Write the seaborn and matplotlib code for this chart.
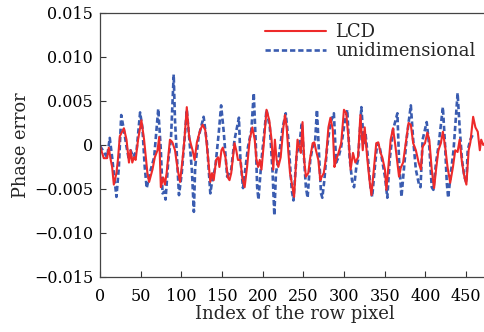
import matplotlib
matplotlib.use("Agg")
import matplotlib.pyplot as plt
import seaborn as sns
import pandas as pd

# ---- data ----
lcd_x = [0, 4.6, 8.7, 10.8, 12.8, 14.9, 17.0, 20.2, 22.0, 24.4, 29.4, 32.6, 35.6, 37.6, 39.7, 41.8,
         43.8, 46.8, 50.9, 54.2, 58.3, 60.4, 64.5, 67.4, 70.7, 72.8, 74.8, 77.8, 79.8, 81.9, 86.0,
         89.0, 92.2, 95.5, 98.4, 101.4, 103.8, 106.7, 109.6, 112.0, 113.8, 116.3, 119.1, 123.2,
         126.2, 129.4, 132.8, 135.6, 137.7, 139.8, 142.7, 145.2, 146.8, 149.3, 151.0, 154.2, 157.2,
         159.2, 161.3, 165.4, 167.5, 169.6, 172.5, 174.9, 177.8, 180.8, 184.0, 187.3, 190.2, 192.3,
         194.4, 196.4, 198.5, 201.4, 204.7, 208.1, 210.9, 213.0, 215.0, 217.1, 219.2, 222.1, 225.4,
         227.4, 229.5, 231.6, 233.6, 235.7, 238.6, 240.7, 242.8, 244.8, 246.9, 249.0, 251.0, 253.1,
         256.0, 258.5, 261.4, 263.4, 265.5, 268.4, 270.8, 272.6, 275.1, 277.9, 280.8, 283.3, 286.2,
         288.2, 290.3, 293.2, 296.5, 299.9, 302.7, 305.6, 308.1, 311.0, 313.9, 317.2, 320.1, 323.0,
         325.4, 328.4, 331.3, 333.7, 336.6, 339.6, 342.1, 344.9, 347.0, 350.3, 352.0, 354.5, 357.3,
         360.2, 362.7, 365.6, 367.6, 369.7, 372.6, 375.9, 379.3, 382.1, 385.0, 388.3, 391.7, 394.5,
         396.6, 399.5, 402.4, 404.8, 407.8, 410.7, 413.1, 416.0, 419.0, 421.5, 424.3, 427.2, 430.5,
         433.9, 436.7, 439.6, 442.1, 445.0, 447.9, 450.4, 453.2, 455.3, 458.7, 461.5, 464.4, 466.9,
         468.6, 471.1, 474.0, 477.3]
lcd_y = [-0.0001, -0.0015, -0.0015, -0.0003, -0.0015, -0.0025, -0.0045, -0.0032, -0.0017, 0.0010,
         0.0019, 0.0006, -0.0020, -0.0006, -0.0020, -0.0014, -0.0017, 0.0006, 0.0028, 0.0006,
         -0.0032, -0.0042, -0.0028, -0.0014, -0.0006, 0.0009, -0.0048, -0.0037, -0.0045, -0.0032,
         0.0006, 0.0003, -0.0006, -0.0028, -0.0042, -0.0017, 0.0006, 0.0043, 0.0009, 0.0, -0.0006,
         -0.0017, 0.0003, 0.0017, 0.0023, 0.0017, -0.0014, -0.0042, -0.0032, -0.0040, -0.0017,
         -0.0014, -0.0025, -0.0006, -0.0003, -0.0014, -0.0037, -0.0040, -0.0032, 0.0002, -0.0006,
         -0.0017, -0.0017, -0.0037, -0.0048, -0.0025, 0.0006, 0.0020, 0.0006, -0.0017, -0.0025,
         -0.0017, -0.0028, 0.0002, 0.0040, 0.0028, 0.0006, -0.0028, 0.0006, -0.0017, -0.0025,
         -0.0014, 0.0020, 0.0034, 0.0020, -0.0009, -0.0032, -0.0043, -0.0059, -0.0025, 0.0006,
         -0.0002, -0.0009, 0.0026, -0.0017, -0.0036, -0.0032, -0.0014, 0.0002, 0.0003, -0.0006,
         -0.0017, -0.0040, -0.0036, -0.0032, -0.0014, 0.0020, 0.0031, 0.0017, -0.0025, -0.0017,
         -0.0009, 0.0002, 0.0040, 0.0036, 0.0006, -0.0028, -0.0009, -0.0020, -0.0014, 0.0034,
         -0.0006, 0.0020, -0.0014, -0.0040, -0.0057, -0.0028, 0.0002, 0.0003, -0.0009, -0.0014,
         -0.0028, -0.0051, -0.0025, 0.0006, 0.0019, 0.0002, -0.0020, -0.0036, -0.0026, -0.0020,
         0.0002, 0.0025, 0.0023, 0.0002, -0.0006, -0.0020, -0.0028, -0.0002, 0.0002, 0.0014,
         0.0006, -0.0028, -0.0049, -0.0028, -0.0006, 0.0002, 0.0015, -0.0002, -0.0025, -0.0043,
         -0.0025, -0.0006, -0.0008, 0.0006, -0.0020, -0.0036, -0.0045, -0.0006, 0.0003, 0.0032,
         0.0020, 0.0015, -0.0006, 0.0006, 0.0, 0.0003, 0.0]

uni_x = [0, 8.7, 12.0, 14.9, 20.2, 23.2, 26.1, 29.4, 32.6, 35.6, 37.6, 40.9, 45.0, 49.3, 52.1, 55.0,
         57.4, 62.4, 66.6, 71.6, 74.8, 76.9, 79.0, 80.6, 84.0, 87.2, 90.6, 92.2, 95.5, 97.1, 100.5,
         104.6, 106.7, 109.6, 112.9, 115.4, 117.0, 121.2, 127.4, 131.5, 135.6, 137.7, 141.8, 146.0,
         148.9, 152.2, 156.3, 161.3, 165.4, 170.8, 172.5, 175.8, 179.0, 182.0, 186.1, 189.0, 191.5,
         193.2, 194.8, 198.5, 201.4, 204.7, 208.8, 212.2, 214.3, 216.3, 220.5, 224.6, 228.3, 231.6,
         235.7, 237.8, 241.9, 244.8, 248.1, 251.0, 253.1, 255.2, 258.5, 261.4, 264.3, 266.7, 269.6,
         271.7, 273.3, 275.8, 279.2, 283.3, 287.5, 290.3, 293.2, 296.5, 300.6, 304.0, 306.8, 309.8,
         312.3, 315.1, 317.2, 321.3, 324.2, 326.3, 329.6, 332.5, 334.6, 337.9, 340.8, 343.7, 346.2,
         350.3, 353.2, 356.1, 360.2, 365.6, 367.6, 370.6, 373.8, 376.8, 379.3, 382.1, 385.0, 388.3,
         391.7, 394.0, 396.6, 401.6, 404.8, 407.8, 409.8, 413.1, 416.0, 421.5, 424.3, 426.3, 428.0,
         431.3, 434.6, 439.6, 442.1, 445.0, 447.9, 450.4, 452.0, 455.3, 459.4]
uni_y = [-0.0001, -0.0014, 0.0008, -0.0014, -0.0059, -0.0025, 0.0034, 0.0017, -0.0002, -0.0017,
         -0.0006, -0.0014, -0.0006, 0.0037, 0.0020, -0.0025, -0.0049, -0.0028, -0.0014, 0.0041,
         -0.0006, -0.0055, -0.0053, -0.0062, -0.0017, 0.0006, 0.0080, 0.0028, -0.0028, -0.0057,
         -0.0032, 0.0014, 0.0040, 0.0009, -0.0028, -0.0076, -0.0025, 0.0009, 0.0032, 0.0002,
         -0.0055, -0.0042, -0.0025, 0.0014, 0.0045, 0.0014, -0.0036, -0.0028, 0.0006, 0.0031,
         -0.0014, -0.0049, -0.0025, -0.0002, 0.0017, 0.0059, 0.0002, -0.0048, -0.0062, -0.0017,
         0.0009, 0.0040, 0.0020, -0.0032, -0.0080, -0.0032, -0.0009, 0.0020, 0.0036, 0.0006,
         -0.0051, -0.0063, -0.0009, -0.0002, 0.0025, -0.0017, -0.0048, -0.0060, -0.0017, -0.0002,
         0.0002, 0.0040, -0.0017, -0.0055, -0.0060, -0.0040, -0.0002, 0.0025, 0.0036, -0.0020,
         -0.0014, -0.0002, 0.0025, 0.0040, -0.0014, -0.0040, -0.0048, -0.0025, -0.0017, 0.0043,
         0.0002, 0.0014, -0.0017, -0.0048, -0.0059, -0.0025, 0.0002, -0.0002, -0.0014, -0.0036,
         -0.0060, -0.0017, 0.0017, 0.0036, -0.0017, -0.0059, -0.0025, 0.0006, 0.0025, 0.0045,
         0.0006, -0.0028, -0.0043, -0.0048, 0.0006, 0.0026, -0.0002, -0.0048, -0.0051, -0.0020,
         -0.0002, 0.0043, -0.0002, -0.0043, -0.0060, -0.0032, -0.0006, 0.0059, 0.0020, -0.0017,
         -0.0036, -0.0043, -0.0006, 0.0006, 0.0014]

series_names = ["LCD", "unidimensional"]
x_ticks = [0, 50, 100, 150, 200, 250, 300, 350, 400, 450]
y_ticks = [-0.015, -0.010, -0.005, 0, 0.005, 0.010, 0.015]
y_tick_labels = ["\u22120.015", "\u22120.010", "\u22120.005", "0", "0.005", "0.010", "0.015"]
x_label = "Index of the row pixel"
y_label = "Phase error"

# ---- plot ----
sns.set_style("ticks")
plt.rcParams["font.family"] = ["DejaVu Serif"]
plt.rcParams["font.size"] = 11.5

fig = plt.figure(figsize=(4.84, 3.32), dpi=100)
ax = fig.add_axes([0.2066, 0.1657, 0.8034, 0.7953])

df_lcd = pd.DataFrame({"x": lcd_x, "y": lcd_y})
df_uni = pd.DataFrame({"x": uni_x, "y": uni_y})

sns.lineplot(data=df_uni, x="x", y="y", ax=ax, color="#3a5cb0", linewidth=1.9,
             linestyle=(0, (2.0, 1.1)), label=series_names[1], sort=False)
sns.lineplot(data=df_lcd, x="x", y="y", ax=ax, color="#ee2a2a", linewidth=1.5,
             label=series_names[0], sort=False)

ax.set_xlim(0, 478)
ax.set_ylim(-0.015, 0.015)
ax.set_xticks(x_ticks)
ax.set_yticks(y_ticks)
ax.set_yticklabels(y_tick_labels)
ax.set_xlabel(x_label, fontsize=13, labelpad=0)
ax.set_ylabel(y_label, fontsize=12.8, labelpad=3)
ax.tick_params(axis="x", pad=8)
ax.tick_params(axis="y", pad=5)
ax.tick_params(direction="in", length=4, width=0.8, colors="#333333", labelcolor="black",
               labelsize=11.5)
for s in ["left", "bottom", "top"]:
    ax.spines[s].set_color("#444444")
    ax.spines[s].set_linewidth(0.9)
ax.spines["right"].set_visible(False)

handles, labels = ax.get_legend_handles_labels()
order = [labels.index(n) for n in series_names]
ax.legend([handles[i] for i in order], [labels[i] for i in order], frameon=False,
          loc="upper left", bbox_to_anchor=(0.424, 0.962), borderaxespad=0, borderpad=0,
          handlelength=3.4, handletextpad=0.5, labelspacing=0.08, fontsize=13)

fig.savefig("out.png", dpi=100)
